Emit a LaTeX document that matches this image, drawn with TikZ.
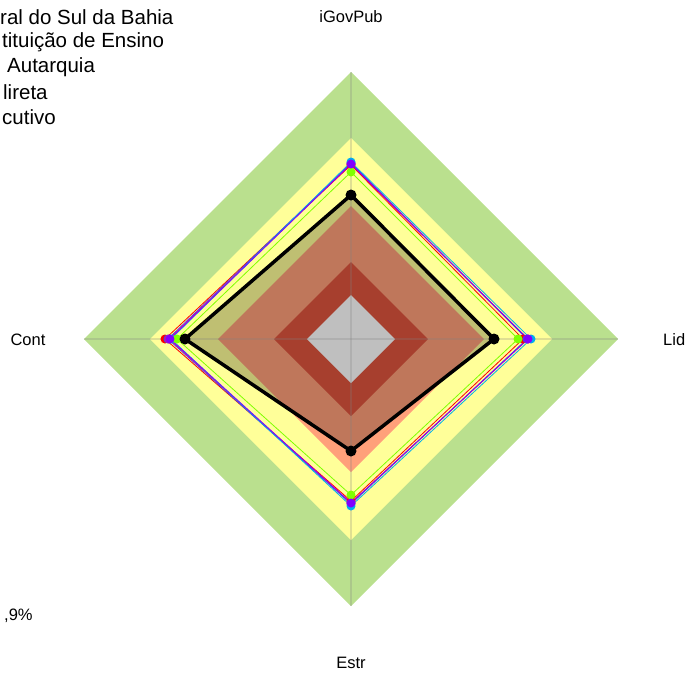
\documentclass[tikz,border=0pt]{standalone}
\usepackage{fontspec}
\setmainfont{Liberation Sans}
\usepackage{xcolor}

\definecolor{zonegreen}{RGB}{186,224,142}
\definecolor{zoneyellow}{RGB}{255,255,153}
\definecolor{zonesalmon}{RGB}{255,160,122}
\definecolor{zonered}{RGB}{224,85,62}
\definecolor{serblue}{RGB}{40,80,255}
\definecolor{sergreen}{RGB}{128,255,0}
\definecolor{serpurple}{RGB}{128,0,255}

% diamond with radii top, right, bottom, left
\newcommand{\radarpoly}[4]{(0,#1) -- (#2,0) -- (0,-#3) -- (-#4,0) -- cycle}

\begin{document}
\begin{tikzpicture}[x=1pt,y=1pt,
  serie/.style={line width=0.8pt},
  axisline/.style={gray,opacity=0.25,line width=1.5pt},
  axislbl/.style={font=\fontsize{16.5}{19}\selectfont},
  legendlbl/.style={anchor=west,inner sep=0pt,font=\fontsize{20.5}{24}\selectfont}]
\useasboundingbox (-351,-334) rectangle (336,339);

% zones
\fill[zonegreen] \radarpoly{267}{267}{267}{267};
\fill[zoneyellow] \radarpoly{201}{201}{201}{201};
\fill[zonesalmon] \radarpoly{133}{133}{133}{133};
\fill[zonered] \radarpoly{77}{77}{77}{77};
\fill[white] \radarpoly{44}{44}{44}{44};

% shaded data area
\fill[black,opacity=0.25] \radarpoly{144}{143}{112}{166};

% axes
\draw[axisline] (0,267) -- (0,-267);
\draw[axisline] (-267,0) -- (267,0);

% series
\draw[serie,red] \radarpoly{174}{172}{162}{186};
\draw[serie,serblue] \radarpoly{176}{176}{165}{183};
\draw[serie,magenta] \radarpoly{175}{177}{164}{182};
\draw[serie,cyan] \radarpoly{177}{180}{167}{180};
\draw[serie,sergreen] \radarpoly{167}{167}{156}{174};
\draw[serie,serpurple] \radarpoly{175}{177}{164}{181};

\fill[red] (0,174) circle (4.5) (172,0) circle (4.5) (0,-162) circle (4.5) (-186,0) circle (4.5);
\fill[serblue] (0,176) circle (4.5) (176,0) circle (4.5) (0,-165) circle (4.5) (-183,0) circle (4.5);
\fill[magenta] (0,175) circle (4.5) (177,0) circle (4.5) (0,-164) circle (4.5) (-182,0) circle (4.5);
\fill[cyan] (0,177) circle (4.5) (180,0) circle (4.5) (0,-167) circle (4.5) (-180,0) circle (4.5);
\fill[sergreen] (0,167) circle (4.5) (167,0) circle (4.5) (0,-156) circle (4.5) (-174,0) circle (4.5);
\fill[serpurple] (0,175) circle (4.5) (177,0) circle (4.5) (0,-164) circle (4.5) (-181,0) circle (4.5);

\draw[black,line width=3.5pt,line join=round] \radarpoly{144}{143}{112}{166};
\fill[black] (0,144) circle (5.5) (143,0) circle (5.5) (0,-112) circle (5.5) (-166,0) circle (5.5);

% axis labels
\node[axislbl] (igov) at (0,322) {iGovPub};
\node[axislbl,anchor=west,inner sep=0pt] (lid) at (312,-1) {Lid};
\node[axislbl] (cont) at (-323,-1) {Cont};
\node[axislbl] (estr) at (0,-324) {Estr};

% legend
\node[legendlbl] (leg1) at (-351,322) {ral do Sul da Bahia};
\node[legendlbl] (leg2) at (-349,297) {tituição de Ensino};
\node[legendlbl] (leg3) at (-344,272) {Autarquia};
\node[legendlbl] (leg4) at (-348,247) {lireta};
\node[legendlbl] (leg5) at (-349,222) {cutivo};
\node[axislbl,anchor=west,inner sep=0pt] (pct) at (-347,-277) {,9\%};
\end{tikzpicture}
\end{document}
